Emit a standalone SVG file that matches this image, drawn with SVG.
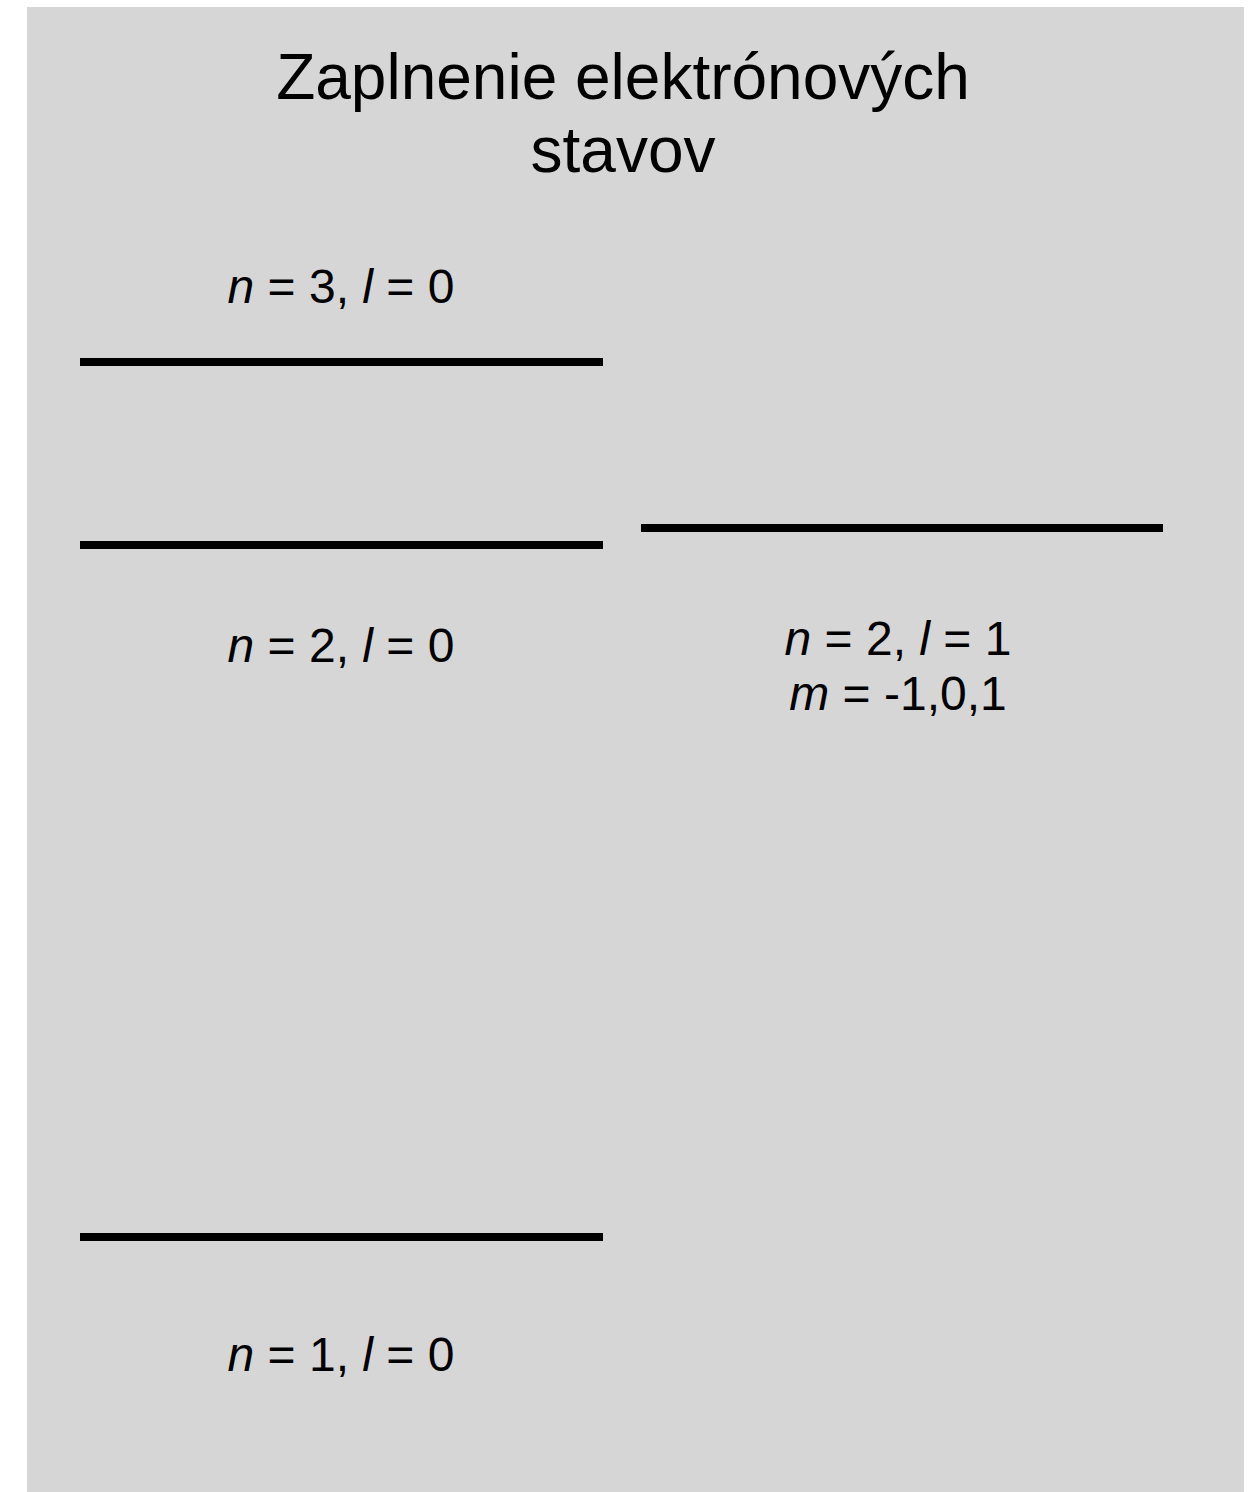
<svg xmlns="http://www.w3.org/2000/svg" width="1253" height="1492" viewBox="0 0 1253 1492">
<style>
.t{font-family:"Liberation Sans",Arial,sans-serif;fill:#000;text-anchor:middle}
.title{font-size:64px}
.lab{font-size:48px}
.lvl{stroke:#000;stroke-width:8}
</style>
<rect x="0" y="0" width="1253" height="1492" fill="#ffffff"/>
<rect x="27" y="7" width="1217" height="1485" fill="#d6d6d6"/>
<g id="title">
<text class="t title" x="623" y="99">Zaplnenie elektrónových</text>
<text class="t title" x="623" y="172">stavov</text>
</g>
<g id="level-n3-l0">
<line class="lvl" x1="80" y1="362" x2="603" y2="362"/>
<text class="t lab" x="341" y="303"><tspan font-style="italic">n</tspan> = 3, <tspan font-style="italic">l</tspan> = 0</text>
</g>
<g id="level-n2-l0">
<line class="lvl" x1="80" y1="545" x2="603" y2="545"/>
<text class="t lab" x="341" y="662"><tspan font-style="italic">n</tspan> = 2, <tspan font-style="italic">l</tspan> = 0</text>
</g>
<g id="level-n2-l1">
<line class="lvl" x1="641" y1="528" x2="1163" y2="528"/>
<text class="t lab" x="898" y="655"><tspan font-style="italic">n</tspan> = 2, <tspan font-style="italic">l</tspan> = 1</text>
<text class="t lab" x="898" y="710"><tspan font-style="italic">m</tspan> = -1,0,1</text>
</g>
<g id="level-n1-l0">
<line class="lvl" x1="80" y1="1237" x2="603" y2="1237"/>
<text class="t lab" x="341" y="1371"><tspan font-style="italic">n</tspan> = 1, <tspan font-style="italic">l</tspan> = 0</text>
</g>
<g id="connectors"/>
</svg>
